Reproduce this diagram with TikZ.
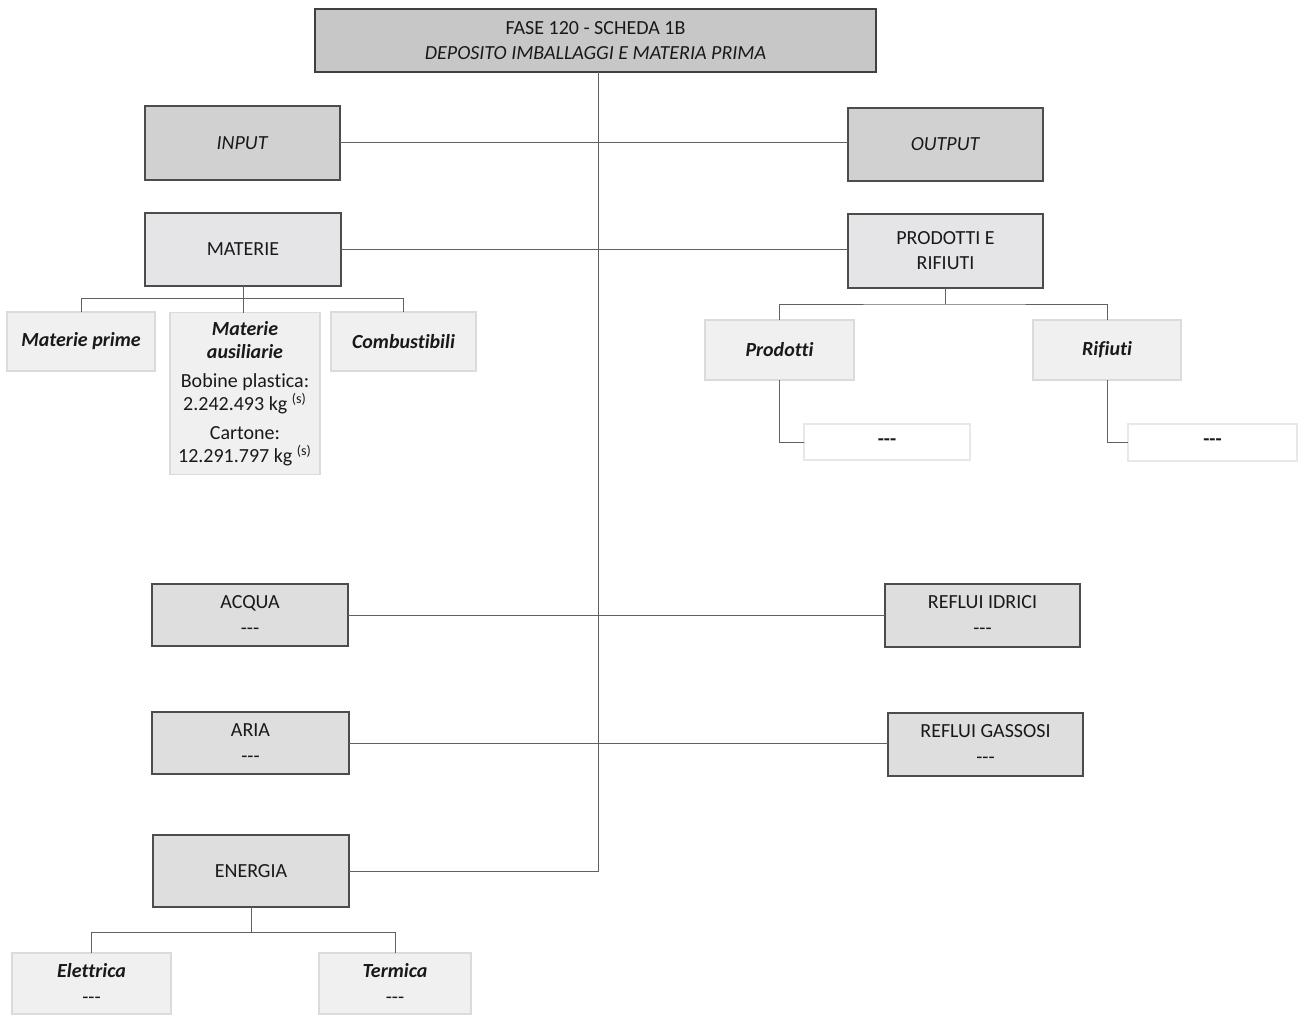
\documentclass[tikz,border=0pt]{standalone}
\usepackage{fontspec}
\setmainfont{Carlito}[Ligatures=NoCommon]
\newcommand{\subhead}[1]{\textbf{\textit{#1}}}
\newcommand{\nil}{{-}{-}{-}}
\begin{document}
\begin{tikzpicture}[x=0.5pt,y=-0.5pt,
  every node/.style={inner sep=0pt,outer sep=0pt,align=center,text=black!90,
    font=\fontsize{10}{12.5}\selectfont},
  headbox/.style={draw=black!75,line width=0.9pt,fill=black!22},
  mainbox/.style={draw=black!70,line width=0.9pt,fill=black!18},
  catbox/.style={draw=black!70,line width=0.9pt,fill=blue!4!black!10},
  flowbox/.style={draw=black!70,line width=0.9pt,fill=blue!4!black!13},
  twoline/.style={font=\fontsize{10}{13}\selectfont},
  subbox/.style={draw=black!14,line width=0.6pt,fill=black!6},
  leafbox/.style={draw=black!9,line width=0.6pt,fill=white},
  link/.style={draw=black!62,line width=0.5pt},
  subtxt/.style={font=\fontsize{10}{11.5}\selectfont\bfseries\itshape}]
\useasboundingbox[fill=white] (0,0) rectangle (1300,1016);

% header
\node[headbox,minimum width=280.5pt,minimum height=31.5pt] (title) at (595.5,40.5)
  {FASE 120 - SCHEDA 1B\\ \textit{DEPOSITO IMBALLAGGI E MATERIA PRIMA}};

% input / output
\node[mainbox,minimum width=97.5pt,minimum height=37pt] (input) at (242.5,143) {\textit{INPUT}};
\node[mainbox,minimum width=97.5pt,minimum height=36.5pt] (output) at (945.5,144.5) {\textit{OUTPUT}};

% materials
\node[catbox,minimum width=98pt,minimum height=36.5pt] (materie) at (243,249.5) {MATERIE};
\node[catbox,minimum width=97.5pt,minimum height=37pt] (prodrif) at (945.5,251) {PRODOTTI E\\RIFIUTI};

\node[subbox,subtxt,minimum width=74pt,minimum height=29.5pt] (mprime) at (81,341.5) {Materie prime};
\node[subbox,minimum width=75pt,minimum height=81pt,font=\fontsize{10}{11.5}\selectfont] (aus) at (245,393.5)
  {\subhead{Materie}\\ \subhead{ausiliarie}\\[3pt]
   Bobine plastica:\\ 2.242.493 kg \textsuperscript{\scriptsize(s)}\\[3pt]
   Cartone:\\ 12.291.797 kg \textsuperscript{\scriptsize(s)}};
\node[subbox,subtxt,minimum width=72.5pt,minimum height=29.5pt] (comb) at (403.5,341.5) {Combustibili};

\node[subbox,subtxt,minimum width=74.5pt,minimum height=30pt] (prod) at (779.5,350) {Prodotti};
\node[subbox,subtxt,minimum width=74pt,minimum height=30pt] (rif) at (1107,350) {Rifiuti};
\node[leafbox,minimum width=83pt,minimum height=18pt] (proddash) at (887,442) {\textbf{\nil}};
\node[leafbox,minimum width=84.5pt,minimum height=18.5pt] (rifdash) at (1212.5,442.5) {\textbf{\nil}};

% water / air
\node[flowbox,twoline,minimum width=98pt,minimum height=31pt] (acqua) at (250,615) {ACQUA\\ \nil};
\node[flowbox,twoline,minimum width=97.5pt,minimum height=31.5pt] (idrici) at (982.5,615.5) {REFLUI IDRICI\\ \nil};
\node[flowbox,twoline,minimum width=98.5pt,minimum height=31pt] (aria) at (250.5,743) {ARIA\\ \nil};
\node[flowbox,twoline,minimum width=97.5pt,minimum height=31.5pt] (gassosi) at (985.5,744.5) {REFLUI GASSOSI\\ \nil};

% energy
\node[flowbox,minimum width=98pt,minimum height=36pt] (energia) at (251,871) {ENERGIA};
\node[subbox,twoline,minimum width=79.5pt,minimum height=30.5pt] (elettrica) at (91.5,983.5) {\subhead{Elettrica}\\ \nil};
\node[subbox,twoline,minimum width=76pt,minimum height=30.5pt] (termica) at (395,983.5) {\subhead{Termica}\\ \nil};

% spine from the header down to the energy box
\draw[link] (title.south -| 598,0) |- (energia.east);

% input/output pairs
\draw[link] (input.east) -- (input.east -| output.west);
\draw[link] (materie.east) -- (materie.east -| prodrif.west);
\draw[link] (acqua.east) -- (acqua.east -| idrici.west);
\draw[link] (aria.east) -- (aria.east -| gassosi.west);

% material branches
\draw[link] (materie.south) -- (materie.south |- aus.north);
\draw[link] (mprime.north) -- ++(0,-14) -| (comb.north);

% product branches
\draw[link] (prodrif.south) -- ++(0,16) coordinate (pbus);
\draw[link] (prod.north) |- (pbus) -| (rif.north);
\draw[link] (prod.south) |- (proddash.west);
\draw[link] (rif.south) |- (rifdash.west);

% energy branches
\draw[link] (energia.south) -- ++(0,25) coordinate (ebus);
\draw[link] (elettrica.north) |- (ebus) -| (termica.north);
\end{tikzpicture}
\end{document}
